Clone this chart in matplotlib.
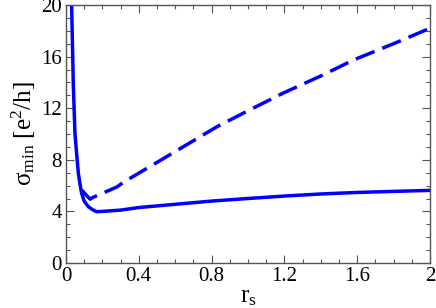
import matplotlib
matplotlib.use('Agg')
import matplotlib.pyplot as plt
from matplotlib.ticker import MultipleLocator

plt.rcParams['font.family'] = ['Liberation Serif', 'DejaVu Serif']
plt.rcParams['mathtext.fontset'] = 'custom'
plt.rcParams['mathtext.rm'] = 'Liberation Serif'
plt.rcParams['mathtext.it'] = 'Liberation Serif:italic'

# solid curve
solid_r = [0.029, 0.031, 0.040, 0.049, 0.060, 0.068, 0.077, 0.086, 0.10, 0.123,
           0.15, 0.168, 0.2, 0.3, 0.4, 0.6, 0.8, 1.0, 1.2, 1.4, 1.6, 1.8, 2.0]
solid_s = [23.0, 19.9, 13.9, 10.1, 8.2, 6.95, 6.1, 5.4, 4.8, 4.36,
           4.1, 3.98, 4.0, 4.1, 4.3, 4.55, 4.8, 5.0, 5.19, 5.35, 5.47, 5.55, 5.63]

# dashed curve
dash_r = [0.086, 0.10, 0.115, 0.132, 0.15, 0.2, 0.28, 0.32, 0.5, 0.83,
          1.0, 1.19, 1.4, 1.58, 1.8, 2.0]
dash_s = [5.65, 5.45, 5.2, 4.95, 5.1, 5.4, 5.9, 6.3, 7.8, 10.57,
          11.8, 13.15, 14.5, 15.74, 17.0, 18.2]

fig = plt.figure(figsize=(4.36, 3.08), dpi=100)
ax = fig.add_axes([66/436, 1 - 263/308, (430 - 66)/436, (263 - 5)/308])

ax.plot(solid_r, solid_s, color='#0000ff', lw=2.5)
ax.plot(dash_r, dash_s, color='#0000ff', lw=2.5, dashes=(5.8, 2.4))

ax.set_xlim(0, 2)
ax.set_ylim(0, 20)
ax.xaxis.set_major_locator(MultipleLocator(0.4))
ax.xaxis.set_minor_locator(MultipleLocator(0.1))
ax.yaxis.set_major_locator(MultipleLocator(4))
ax.yaxis.set_minor_locator(MultipleLocator(1))
ax.set_xticklabels(['0', '0.4', '0.8', '1.2', '1.6', '2'])
ax.set_xticks([0, 0.4, 0.8, 1.2, 1.6, 2.0])
ax.set_xticklabels(['0', '0.4', '0.8', '1.2', '1.6', '2'])

ax.tick_params(which='both', direction='in', top=True, right=True,
               color='#555555', labelsize=15, pad=3)
ax.tick_params(which='major', length=6, width=0.8)
ax.tick_params(which='minor', length=3, width=0.8)
for s in ax.spines.values():
    s.set_color('#555555')
    s.set_linewidth(1.0)

ax.set_xlabel('r$_{\\rm s}$', fontsize=18, labelpad=0)
ax.set_ylabel('σ$_{\\rm min}$ [e$^{2}$/h]', fontsize=18, labelpad=2)

fig.savefig('out.png', dpi=100)
